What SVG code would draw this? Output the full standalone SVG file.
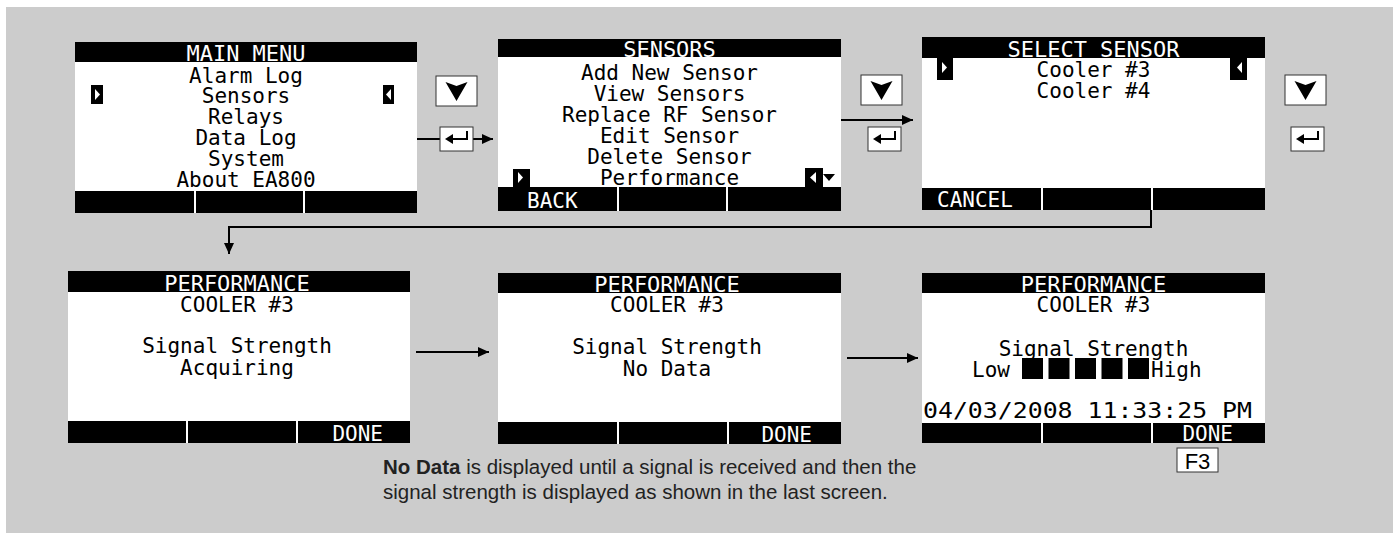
<svg xmlns="http://www.w3.org/2000/svg" width="1393" height="533" viewBox="0 0 1393 533">
<defs>
<style>
.bg{fill:#cccccc}
.scr{fill:#ffffff}
.bar{fill:#000000}
.div{stroke:#ffffff;stroke-width:2}
.lcd{font-family:"DejaVu Sans Mono","Liberation Mono",monospace;font-size:21px;fill:#000;text-anchor:middle}
.lcdl{font-family:"DejaVu Sans Mono","Liberation Mono",monospace;font-size:21px;fill:#000;text-anchor:start}
.hd{font-family:"DejaVu Sans Mono","Liberation Mono",monospace;font-size:22px;fill:#fff;text-anchor:middle}
.ft{font-family:"DejaVu Sans Mono","Liberation Mono",monospace;font-size:21px;fill:#fff;text-anchor:start}
.ftr{font-family:"DejaVu Sans Mono","Liberation Mono",monospace;font-size:21px;fill:#fff;text-anchor:end}
.key{fill:#ffffff;stroke:#333333;stroke-width:1}
.glyph{fill:#000}
.eline{stroke:#000;stroke-width:2;fill:none}
.conn{stroke:#000;stroke-width:2;fill:none;marker-end:url(#ah)}
.cap{font-family:"Liberation Sans",Arial,sans-serif;font-size:20.5px;fill:#222}
</style>
<marker id="ah" markerUnits="userSpaceOnUse" markerWidth="12" markerHeight="12" viewBox="0 0 12 12" refX="11" refY="6" orient="auto">
<path d="M0,1 L11,6 L0,11 Z" fill="#000"/>
</marker>
<g id="downglyph"><rect class="key" x="0" y="0" width="41" height="30"/><path class="glyph" d="M9.5,6 L20.5,10 L31.5,6 L20.5,25 Z"/></g>
<g id="enterglyph"><rect class="key" x="0" y="0" width="33" height="24"/><path class="glyph" d="M5,12 L13,7 L13,17 Z"/><path class="eline" d="M12,12 H27 V4"/></g>
</defs>
<rect class="bg" x="6" y="7" width="1387" height="526"/>

<g id="connectors">
<path class="conn" d="M417,139 H493"/>
<path class="conn" d="M841,120 H913"/>
<path class="conn" d="M1151,210 V227 H229 V254"/>
<path class="conn" d="M416,352 H489"/>
<path class="conn" d="M847,358 H918"/>
</g>

<g id="screen-main-menu">
<rect class="scr" x="75" y="42" width="342" height="171"/>
<rect class="bar" x="75" y="42" width="342" height="20"/>
<rect class="bar" x="75" y="191" width="342" height="22"/>
<line class="div" x1="195" y1="191" x2="195" y2="213"/>
<line class="div" x1="304" y1="191" x2="304" y2="213"/>
<text class="hd" x="246" y="61">MAIN MENU</text>
<rect class="bar" x="91" y="85" width="12" height="19"/>
<path d="M95,89 L100,94.5 L95,100 Z" fill="#fff"/>
<rect class="bar" x="383" y="85" width="11" height="19"/>
<path d="M391,89 L386,94.5 L391,100 Z" fill="#fff"/>
<text class="lcd" x="246" y="83">Alarm Log</text>
<text class="lcd" x="246" y="103">Sensors</text>
<text class="lcd" x="246" y="124">Relays</text>
<text class="lcd" x="246" y="145">Data Log</text>
<text class="lcd" x="246" y="166">System</text>
<text class="lcd" x="246" y="187">About EA800</text>
</g>

<g id="keys-1">
<use href="#downglyph" x="436" y="76"/>
<use href="#enterglyph" x="440" y="127"/>
</g>

<g id="screen-sensors">
<rect class="scr" x="498" y="39" width="343" height="172"/>
<rect class="bar" x="498" y="39" width="343" height="18"/>
<rect class="bar" x="498" y="187" width="343" height="24"/>
<line class="div" x1="618" y1="187" x2="618" y2="211"/>
<line class="div" x1="727" y1="187" x2="727" y2="211"/>
<text class="hd" x="669.5" y="57">SENSORS</text>
<rect class="bar" x="513" y="169" width="17" height="19"/>
<path d="M518,172 L523,177.5 L518,183 Z" fill="#fff"/>
<rect class="bar" x="805" y="168" width="18" height="20"/>
<path d="M816,172 L810,177.5 L816,183 Z" fill="#fff"/>
<path d="M823,174 L835,174 L829,181 Z" fill="#000"/>
<text class="lcd" x="669.5" y="80">Add New Sensor</text>
<text class="lcd" x="669.5" y="101">View Sensors</text>
<text class="lcd" x="669.5" y="122">Replace RF Sensor</text>
<text class="lcd" x="669.5" y="143">Edit Sensor</text>
<text class="lcd" x="669.5" y="164">Delete Sensor</text>
<text class="lcd" x="669.5" y="185">Performance</text>
<text class="ft" x="527" y="208">BACK</text>
</g>

<g id="keys-2">
<use href="#downglyph" x="861" y="75"/>
<use href="#enterglyph" x="868" y="127"/>
</g>

<g id="screen-select-sensor">
<rect class="scr" x="922" y="37" width="343" height="173"/>
<rect class="bar" x="922" y="37" width="343" height="21"/>
<rect class="bar" x="922" y="188" width="343" height="22"/>
<line class="div" x1="1042" y1="188" x2="1042" y2="210"/>
<line class="div" x1="1152" y1="188" x2="1152" y2="210"/>
<text class="hd" x="1093.5" y="57">SELECT SENSOR</text>
<rect class="bar" x="937" y="58" width="16" height="22"/>
<path d="M942,62 L947,67.5 L942,73 Z" fill="#fff"/>
<rect class="bar" x="1230" y="58" width="17" height="22"/>
<path d="M1242,62 L1237,67.5 L1242,73 Z" fill="#fff"/>
<text class="lcd" x="1093.5" y="77">Cooler #3</text>
<text class="lcd" x="1093.5" y="98">Cooler #4</text>
<text class="ft" x="937" y="207">CANCEL</text>
</g>

<g id="keys-3">
<use href="#downglyph" x="1285" y="75"/>
<use href="#enterglyph" x="1291" y="127"/>
</g>

<g id="screen-perf-acquiring">
<rect class="scr" x="68" y="271" width="342" height="172"/>
<rect class="bar" x="68" y="271" width="342" height="21"/>
<rect class="bar" x="68" y="421" width="342" height="22"/>
<line class="div" x1="187" y1="421" x2="187" y2="443"/>
<line class="div" x1="297" y1="421" x2="297" y2="443"/>
<text class="hd" x="237" y="291">PERFORMANCE</text>
<text class="lcd" x="237" y="312">COOLER #3</text>
<text class="lcd" x="237" y="353">Signal Strength</text>
<text class="lcd" x="237" y="375">Acquiring</text>
<text class="ftr" x="383" y="441">DONE</text>
</g>

<g id="screen-perf-nodata">
<rect class="scr" x="498" y="273" width="343" height="171"/>
<rect class="bar" x="498" y="273" width="343" height="20"/>
<rect class="bar" x="498" y="422" width="343" height="22"/>
<line class="div" x1="618" y1="422" x2="618" y2="444"/>
<line class="div" x1="728" y1="422" x2="728" y2="444"/>
<text class="hd" x="667" y="292">PERFORMANCE</text>
<text class="lcd" x="667" y="312">COOLER #3</text>
<text class="lcd" x="667" y="354">Signal Strength</text>
<text class="lcd" x="667" y="376">No Data</text>
<text class="ftr" x="812" y="442">DONE</text>
</g>

<g id="screen-perf-signal">
<rect class="scr" x="922" y="273" width="343" height="170"/>
<rect class="bar" x="922" y="273" width="343" height="20"/>
<rect class="bar" x="922" y="423" width="343" height="20"/>
<line class="div" x1="1042" y1="423" x2="1042" y2="443"/>
<line class="div" x1="1152" y1="423" x2="1152" y2="443"/>
<text class="hd" x="1093.5" y="292">PERFORMANCE</text>
<text class="lcd" x="1093.5" y="312">COOLER #3</text>
<text class="lcd" x="1093.5" y="356">Signal Strength</text>
<text class="lcdl" x="972" y="377">Low</text>
<rect class="bar" x="1022" y="358" width="21" height="21"/>
<rect class="bar" x="1048.5" y="358" width="21" height="21"/>
<rect class="bar" x="1075" y="358" width="21" height="21"/>
<rect class="bar" x="1101.5" y="358" width="21" height="21"/>
<rect class="bar" x="1128" y="358" width="21" height="21"/>
<text class="lcdl" x="1151" y="377">High</text>
<text class="lcdl" x="923" y="418" textLength="329" lengthAdjust="spacingAndGlyphs">04/03/2008 11:33:25 PM</text>
<text class="ftr" x="1233" y="441">DONE</text>
</g>

<g id="key-f3">
<rect class="key" x="1177" y="448" width="41" height="24"/>
<text x="1197.5" y="469" text-anchor="middle" style="font-family:'Liberation Sans',Arial,sans-serif;font-size:22px;fill:#000">F3</text>
</g>

<g id="caption">
<text class="cap" x="383" y="474"><tspan font-weight="bold">No Data</tspan> is displayed until a signal is received and then the</text>
<text class="cap" x="383" y="499">signal strength is displayed as shown in the last screen.</text>
</g>
</svg>
